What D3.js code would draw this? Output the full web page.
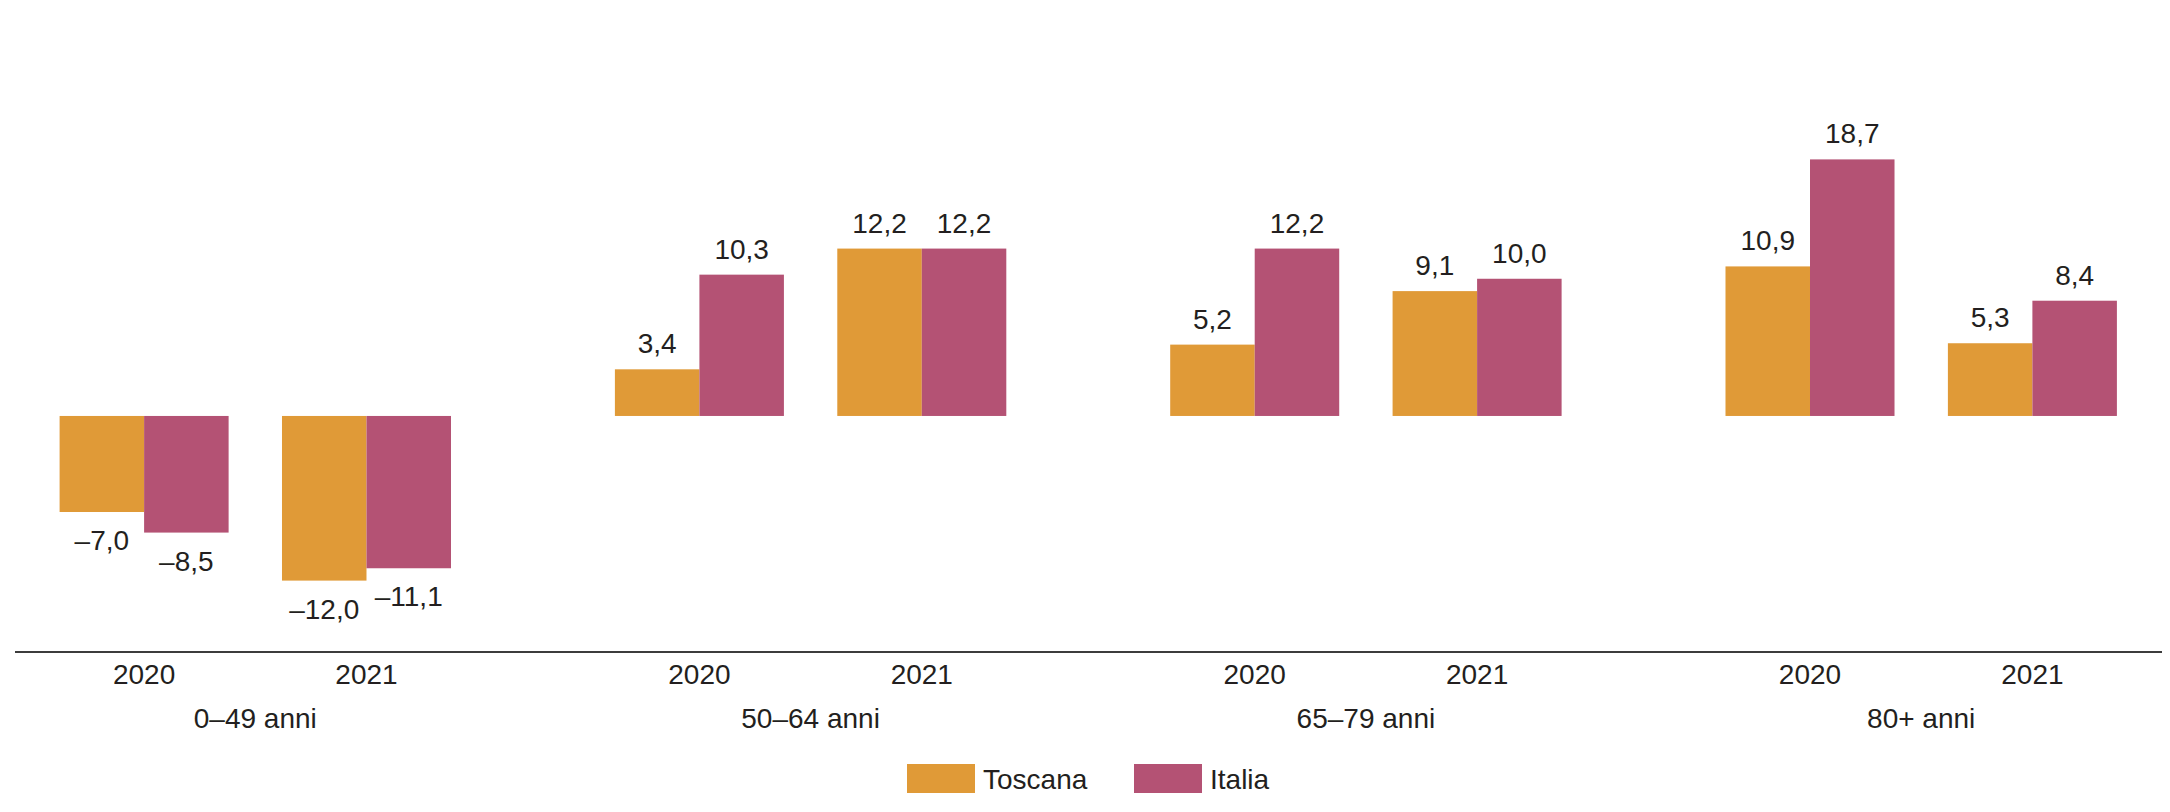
<!DOCTYPE html>
<html>
<head>
<meta charset="utf-8">
<script src="https://cdn.jsdelivr.net/npm/d3@7"></script>
<style>
  html, body { margin: 0; padding: 0; background: #ffffff; }
  svg { display: block; }
  text { font-family: "Liberation Sans", Arial, Helvetica, sans-serif; fill: #231f20; }
</style>
</head>
<body>
<svg id="chart" width="2170" height="812"></svg>
<script>
// ---- data ----
const ageGroups = ["0–49 anni", "50–64 anni", "65–79 anni", "80+ anni"];
const years = ["2020", "2021"];
const seriesNames = ["Toscana", "Italia"];
const toscana = [-7.0, -12.0, 3.4, 12.2, 5.2, 9.1, 10.9, 5.3];   // group-major, year-minor
const italia  = [-8.5, -11.1, 10.3, 12.2, 12.2, 10.0, 18.7, 8.4];
const colors = ["#e09a37", "#b45274"];

// ---- build records ----
const records = [];
ageGroups.forEach((g, gi) => {
  years.forEach((yr, yi) => {
    const idx = gi * years.length + yi;
    records.push({ group: g, year: yr, series: "Toscana", value: toscana[idx] });
    records.push({ group: g, year: yr, series: "Italia", value: italia[idx] });
  });
});

const svg = d3.select("#chart");

// ---- scales ----
const groupStep = 555.3;
const firstCenter = 255.3;
const x0 = d3.scaleBand()
  .domain(ageGroups)
  .range([firstCenter - groupStep / 2, firstCenter + groupStep * 3.5])
  .padding(0);

const x1 = d3.scaleBand()
  .domain(years)
  .range([0, x0.bandwidth()])
  .paddingInner(0.24)
  .paddingOuter(0.3685);

const x2 = d3.scaleBand()
  .domain(seriesNames)
  .range([0, x1.bandwidth()])
  .padding(0);

const y = d3.scaleLinear()
  .domain([-12, 18.7])
  .range([580.6, 159.4]);

const color = d3.scaleOrdinal().domain(seriesNames).range(colors);

const fmt = v => (v < 0 ? "–" : "") + d3.format(".1f")(Math.abs(v)).replace(".", ",");
const FS = 28;

// ---- bars ----
const g = svg.append("g");
g.selectAll("rect.bar")
  .data(records)
  .join("rect")
  .attr("class", "bar")
  .attr("x", d => x0(d.group) + x1(d.year) + x2(d.series))
  .attr("width", x2.bandwidth())
  .attr("y", d => Math.min(y(d.value), y(0)))
  .attr("height", d => Math.abs(y(d.value) - y(0)))
  .attr("fill", d => color(d.series));

// ---- value labels ----
g.selectAll("text.val")
  .data(records)
  .join("text")
  .attr("class", "val")
  .attr("x", d => x0(d.group) + x1(d.year) + x2(d.series) + x2.bandwidth() / 2)
  .attr("y", d => d.value >= 0 ? y(d.value) - 16 : y(d.value) + 38)
  .attr("text-anchor", "middle")
  .attr("font-size", FS)
  .text(d => fmt(d.value));

// ---- axis line ----
const axisY = 652;
svg.append("line")
  .attr("x1", 15).attr("x2", 2162)
  .attr("y1", axisY).attr("y2", axisY)
  .attr("stroke", "#3c3c3c")
  .attr("stroke-width", 2);

// ---- year tick labels ----
const tickData = [];
ageGroups.forEach(gr => years.forEach(yr => tickData.push({ group: gr, year: yr })));
svg.selectAll("text.year")
  .data(tickData)
  .join("text")
  .attr("class", "year")
  .attr("x", d => x0(d.group) + x1(d.year) + x1.bandwidth() / 2)
  .attr("y", 684)
  .attr("text-anchor", "middle")
  .attr("font-size", FS)
  .text(d => d.year);

// ---- group labels ----
svg.selectAll("text.grp")
  .data(ageGroups)
  .join("text")
  .attr("class", "grp")
  .attr("x", d => x0(d) + x0.bandwidth() / 2)
  .attr("y", 728)
  .attr("text-anchor", "middle")
  .attr("font-size", FS)
  .text(d => d);

// ---- legend ----
const legendX = [907, 1134];
const lg = svg.selectAll("g.leg")
  .data(seriesNames)
  .join("g")
  .attr("class", "leg")
  .attr("transform", (d, i) => `translate(${legendX[i]},764)`);
lg.append("rect")
  .attr("width", 68).attr("height", 29)
  .attr("fill", d => color(d));
lg.append("text")
  .attr("x", 76).attr("y", 25)
  .attr("font-size", FS)
  .text(d => d);
</script>
</body>
</html>
